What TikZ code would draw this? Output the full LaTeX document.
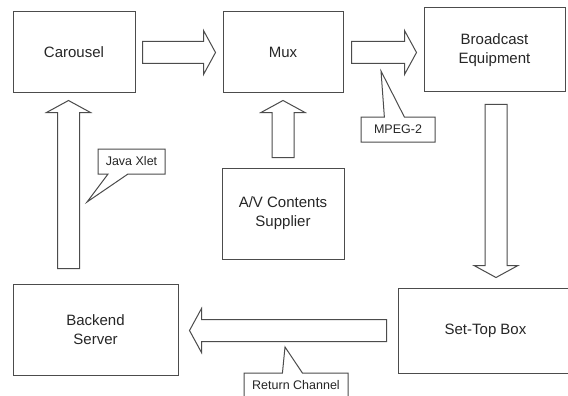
\documentclass[tikz,border=0pt]{standalone}
\usepackage{fontspec}
\setmainfont{Liberation Sans}
\usetikzlibrary{calc,shapes.callouts}
\newcommand{\blockarrow}[2]{%
  \coordinate (#1-h) at ($(#2)!12pt!(#1)$);
  \draw[arrowline] ($(#1)!11pt!90:(#2)$) -- ($(#1-h)!11pt!90:(#2)$)
    -- ($(#1-h)!22pt!90:(#2)$) -- (#2) -- ($(#1-h)!22pt!-90:(#2)$)
    -- ($(#1-h)!11pt!-90:(#2)$) -- ($(#1)!11pt!-90:(#2)$) -- cycle;}
\begin{document}
\begin{tikzpicture}[x=1pt,y=-1pt,
    box/.style={draw=black!70,line width=1pt,text=black!85,align=center,
      font=\fontsize{15}{19}\selectfont},
    arrowline/.style={draw=black!70,line width=1pt,line join=miter},
    note/.style={rectangle callout,draw=black!70,line width=1pt,fill=white,
      text=black!85,minimum height=25,callout pointer width=20pt,
      font=\fontsize{12.5}{15}\selectfont}]
  \clip (0,0) rectangle (568,396);
  \fill[white] (0,0) rectangle (568,396);
  \node[box,minimum width=122,minimum height=81] (carousel) at (74,52.5) {Carousel};
  \node[box,minimum width=120,minimum height=81] (mux) at (283,52.5) {Mux};
  \node[box,minimum width=141,minimum height=84] (broadcast) at (494.5,50) {Broadcast\\Equipment};
  \node[box,minimum width=122,minimum height=91] (av) at (283,213.5) {A/V Contents\\Supplier};
  \node[box,minimum width=165,minimum height=91] (backend) at (95.5,329.5) {Backend\\Server};
  \node[box,minimum width=175,minimum height=85] (settop) at (485.5,330.5) {Set-Top Box};
  % block arrows
  \coordinate (c2m) at ($(carousel.east)+(7,0)$);
  \coordinate (c2m-end) at ($(mux.west)+(-7,0)$);
  \blockarrow{c2m}{c2m-end}
  \coordinate (m2b) at ($(mux.east)+(8,0)$);
  \coordinate (m2b-end) at ($(m2b -| broadcast.west)+(-7,0)$);
  \blockarrow{m2b}{m2b-end}
  \coordinate (b2s) at ($(broadcast.south)+(1.5,12)$);
  \coordinate (b2s-end) at ($(b2s |- settop.north)+(0,-10)$);
  \blockarrow{b2s}{b2s-end}
  \coordinate (a2m) at ($(av.north)+(0,-10)$);
  \coordinate (a2m-end) at ($(mux.south)+(0,7)$);
  \blockarrow{a2m}{a2m-end}
  \coordinate (b2c-end) at ($(carousel.south)+(-5.5,7)$);
  \coordinate (b2c) at ($(b2c-end |- backend.north)+(0,-15)$);
  \blockarrow{b2c}{b2c-end}
  \coordinate (s2b) at ($(settop.west)+(-11,0)$);
  \coordinate (s2b-end) at ($(s2b -| backend.east)+(11,0)$);
  \blockarrow{s2b}{s2b-end}
  % callouts
  \coordinate (mpegtip) at (381,71);
  \coordinate (javatip) at (87,202);
  \coordinate (returntip) at (285,347);
  \node[note,minimum width=74,callout absolute pointer=(mpegtip)] (mpeg) at (398,129.5) {MPEG-2};
  \node[note,minimum width=67,callout absolute pointer=(javatip)] (java) at (131.5,161.5) {Java Xlet};
  \node[note,minimum width=104,callout absolute pointer=(returntip)] (return) at (296,385.5) {Return Channel};
\end{tikzpicture}
\end{document}
